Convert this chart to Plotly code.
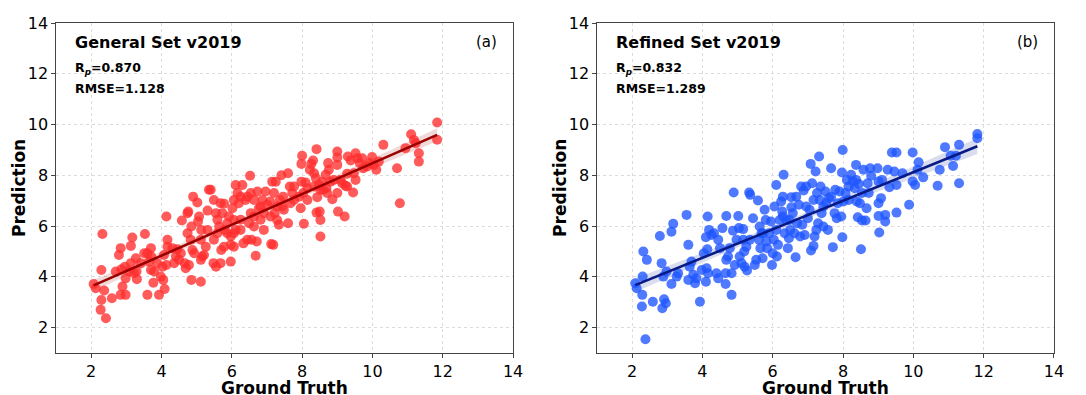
import numpy as np
import plotly.graph_objects as go

# ---------------- data ----------------
gen_truth = [2.07,2.13,2.32,2.29,2.37,2.29,2.27,2.42,2.59,2.79,2.84,2.86,2.89,2.84,2.98,2.98,2.96,3.13,3.13,3.17,
             3.27,3.29,3.30,3.22,3.53,3.60,3.65,3.70,3.71,3.60,3.79,3.77,3.93,3.98,4.05,4.09,4.03,4.14,4.14,4.17,
             4.07,4.31,4.41,4.45,4.50,4.58,4.66,4.74,4.76,4.78,4.83,4.85,4.90,4.88,4.85,4.93,5.02,5.04,5.07,5.12,
             5.12,5.16,5.13,5.26,5.21,5.31,5.35,5.40,5.48,5.55,5.55,5.59,5.64,5.68,5.70,5.73,5.78,5.80,5.87,5.92,
             5.97,5.97,6.02,6.06,6.11,6.11,6.16,6.20,6.25,6.30,6.33,6.39,6.44,6.49,6.52,6.54,6.54,6.56,6.63,6.68,
             6.71,6.73,6.77,6.82,6.87,6.91,6.96,7.01,7.09,7.12,7.15,7.18,7.20,7.22,7.25,7.29,7.34,7.37,7.41,7.44,
             7.46,7.60,7.60,7.65,7.72,7.77,7.91,7.96,7.98,8.00,7.98,8.03,8.05,8.10,8.15,8.22,8.26,8.31,8.34,8.39,
             8.41,8.43,8.41,8.48,8.50,8.52,8.52,8.57,8.60,8.67,8.69,8.74,8.76,8.81,8.86,9.00,9.00,9.00,9.00,9.02,
             9.09,9.14,9.21,9.23,9.28,9.30,9.38,9.45,9.52,9.52,9.57,9.64,9.71,9.74,9.92,9.99,10.04,10.11,10.18,10.31,
             10.70,10.78,10.94,11.10,11.18,11.23,11.32,11.32,11.84,11.84,
             5.49,5.68,6.06,6.25,6.44,6.63,5.87,6.06,6.63,6.91,7.10,7.29,6.82,6.06,5.59,6.25,4.74,5.31,5.12,4.55,
             4.36,4.69,3.88,3.51,3.41,3.08,2.70,3.70,4.17,5.49,5.78,5.97,7.48,7.67,7.77,8.15,8.34,8.52,8.71,8.90,
             9.28,9.47,9.85]
gen_pred = [3.72,3.55,5.69,4.27,3.46,3.09,2.70,2.37,3.16,4.86,5.13,4.30,3.62,3.29,3.29,3.94,4.40,4.54,5.22,5.55,
            4.73,4.21,3.91,4.14,5.69,4.93,4.60,5.13,4.80,3.29,4.21,3.77,3.29,4.01,3.88,3.52,4.40,4.47,6.38,5.19,
            4.86,5.13,4.80,5.09,4.67,6.22,4.54,6.51,6.57,4.47,5.46,5.98,7.16,5.06,3.88,4.93,6.93,6.18,6.38,3.81,
            4.67,4.80,5.85,5.19,4.86,6.61,7.43,7.43,4.54,4.40,6.51,6.25,5.98,4.54,5.06,6.51,6.88,5.85,5.72,6.38,
            4.60,5.26,6.70,5.19,7.62,5.85,7.30,6.90,6.25,7.62,5.32,7.03,5.46,6.11,7.98,7.30,6.51,5.46,5.98,4.83,
            5.39,7.36,6.70,6.25,7.03,5.85,7.36,6.84,6.97,5.29,7.75,5.26,7.30,6.51,7.75,6.77,6.05,7.03,8.00,6.77,
            7.16,8.08,6.11,7.56,7.30,7.03,7.16,6.70,7.75,8.77,8.45,7.30,6.09,7.72,7.49,8.22,8.45,8.58,8.08,7.89,
            9.03,7.14,6.53,7.62,6.57,6.24,5.59,7.75,7.43,8.02,7.49,8.48,8.22,7.75,7.06,8.94,8.70,8.41,7.30,6.57,
            7.82,7.69,6.38,7.59,8.06,8.74,8.58,7.32,7.82,8.87,8.67,8.48,8.67,8.28,8.48,8.72,8.41,8.22,8.54,9.20,
            8.28,6.90,9.07,9.62,9.39,9.26,8.87,8.54,10.08,9.40,
            7.03,6.90,7.03,7.16,7.16,7.03,6.11,6.24,6.38,6.51,6.38,6.24,6.77,5.72,5.72,5.85,5.72,5.85,5.46,4.93,
            4.54,4.34,4.54,4.93,4.54,4.21,4.21,4.27,5.46,5.46,5.19,5.59,6.64,6.90,7.56,7.03,7.56,7.43,7.30,7.82,
            7.56,8.08,8.35]

ref_truth = [2.09,2.13,2.30,2.32,2.42,2.29,2.28,2.38,2.59,2.79,2.84,2.86,2.91,2.96,2.89,2.98,3.12,3.17,3.12,3.27,
             3.31,3.55,3.60,3.60,3.64,3.69,3.74,3.79,3.83,3.93,3.98,4.04,4.10,4.12,4.10,4.16,4.14,4.15,4.19,4.26,
             4.33,4.40,4.45,4.45,4.50,4.57,4.66,4.68,4.68,4.66,4.73,4.78,4.83,4.83,4.87,4.89,4.92,5.02,5.04,5.06,
             5.11,5.16,5.16,5.19,5.20,5.25,5.27,5.33,5.36,5.44,5.49,5.53,5.58,5.61,5.63,5.65,5.68,5.71,5.77,5.80,
             5.82,5.84,5.90,5.95,5.98,6.00,6.03,6.05,6.10,6.12,6.15,6.20,6.24,6.27,6.29,6.31,6.34,6.39,6.43,6.46,
             6.50,6.53,6.53,6.57,6.62,6.65,6.69,6.74,6.78,6.81,6.84,6.88,6.91,6.95,7.00,7.05,7.08,7.09,7.12,7.16,
             7.16,7.19,7.22,7.24,7.26,7.29,7.32,7.34,7.36,7.39,7.44,7.44,7.50,7.57,7.60,7.66,7.71,7.76,7.78,7.82,
             7.85,7.90,7.95,7.98,7.99,7.97,8.01,8.07,8.11,8.16,8.23,8.28,8.33,8.37,8.39,8.42,8.45,8.48,8.51,8.54,
             8.58,8.64,8.67,8.70,8.73,8.77,8.80,8.98,9.01,9.01,9.01,9.03,9.08,9.11,9.20,9.20,9.27,9.32,9.39,9.46,
             9.52,9.52,9.52,9.69,9.88,9.98,9.98,10.05,10.15,10.12,10.28,10.69,10.75,10.90,11.06,11.13,11.21,11.30,11.30,11.82,
             11.82,6.67,6.95,6.48,6.29,6.10,5.72,5.35,4.97,8.16,8.37,8.54,7.66,7.52]
ref_pred = [3.75,3.55,4.01,5.00,4.67,3.29,2.83,1.54,3.02,5.61,4.54,2.76,3.12,2.96,4.01,4.21,5.78,6.09,3.72,4.01,
            4.14,6.44,5.26,3.88,4.40,4.60,4.08,3.75,3.94,3.02,4.27,4.93,5.56,4.34,3.81,4.14,5.09,6.38,5.85,5.65,
            5.72,4.14,5.46,3.94,5.13,5.92,4.14,6.40,4.67,3.72,4.80,5.13,4.14,3.29,5.82,7.32,4.47,6.40,5.92,4.80,
            4.54,5.46,5.88,5.00,4.40,5.19,4.25,7.32,7.23,6.31,4.47,4.67,7.01,5.46,5.98,5.13,5.72,4.73,6.64,6.24,
            5.39,5.13,5.72,6.18,4.47,4.93,5.46,6.77,7.62,4.80,5.26,6.24,6.97,6.57,7.16,8.02,5.72,6.24,5.13,5.52,
            5.85,7.14,6.74,6.51,5.72,4.77,6.11,6.84,5.59,7.56,6.05,7.40,5.65,6.77,6.31,6.64,8.45,5.04,7.69,7.03,
            5.22,5.59,8.15,5.85,7.30,6.11,8.74,7.03,7.56,6.51,5.98,6.77,7.36,5.85,7.10,8.28,5.17,6.51,7.43,6.31,
            6.90,7.36,6.38,5.56,9.00,8.11,6.97,7.30,7.82,7.03,8.02,7.76,7.49,8.41,6.97,6.35,7.66,6.90,5.09,6.22,
            8.22,6.22,6.70,7.69,7.30,8.28,7.98,8.28,7.76,6.90,6.40,5.75,7.10,7.82,6.44,6.18,8.22,7.53,8.90,8.15,
            8.90,7.62,6.53,8.08,6.84,8.90,7.76,7.62,8.51,8.22,7.92,7.59,8.22,9.11,8.77,8.37,8.77,9.20,7.69,9.63,
            9.46,7.16,7.56,6.24,6.38,5.85,5.72,5.46,5.46,7.56,7.82,7.30,7.16,6.90]

panel_titles = ["General Set v2019", "Refined Set v2019"]
panel_tags = ["(a)", "(b)"]
rp_values = ["0.870", "0.832"]
rmse_values = ["1.128", "1.289"]
x_label = "Ground Truth"
y_label = "Prediction"
tick_vals = [2, 4, 6, 8, 10, 12, 14]

point_colors = ["rgba(255,45,45,0.78)", "rgba(30,85,255,0.78)"]
line_colors = ["#9b0000", "#081a86"]
band_colors = ["rgba(160,0,0,0.15)", "rgba(10,30,140,0.15)"]

# ---------------- figure ----------------
fig = go.Figure()
font_family = "DejaVu Sans"
doms = [[0.0, 0.458], [0.542, 1.0]]
datasets = [(gen_truth, gen_pred), (ref_truth, ref_pred)]
title_font = dict(family=font_family, size=17, color="black")

for i, (xs, ys) in enumerate(datasets):
    xa = "x" if i == 0 else "x2"
    ya = "y" if i == 0 else "y2"
    x = np.array(xs)
    y = np.array(ys)
    n = len(x)
    b, a = np.polyfit(x, y, 1)
    xg = np.linspace(x.min(), x.max(), 100)
    yg = a + b * xg
    resid = y - (a + b * x)
    s = np.sqrt(np.sum(resid ** 2) / (n - 2))
    se = s * np.sqrt(1.0 / n + (xg - x.mean()) ** 2 / np.sum((x - x.mean()) ** 2))
    t = 1.97
    fig.add_trace(go.Scatter(x=np.concatenate([xg, xg[::-1]]),
                             y=np.concatenate([yg + t * se, (yg - t * se)[::-1]]),
                             fill="toself", fillcolor=band_colors[i], line=dict(width=0),
                             mode="lines", hoverinfo="skip", showlegend=False, xaxis=xa, yaxis=ya))
    fig.add_trace(go.Scatter(x=x, y=y, mode="markers",
                             marker=dict(size=10, color=point_colors[i], line=dict(width=0)),
                             showlegend=False, xaxis=xa, yaxis=ya))
    fig.add_trace(go.Scatter(x=xg, y=yg, mode="lines", line=dict(color=line_colors[i], width=2.6),
                             showlegend=False, xaxis=xa, yaxis=ya))

    xref = "x domain" if i == 0 else "x2 domain"
    yref = "y domain" if i == 0 else "y2 domain"
    fig.add_annotation(x=0.037, y=0.942, xref=xref, yref=yref, text="<b>" + panel_titles[i] + "</b>",
                       showarrow=False, xanchor="left", yanchor="middle",
                       font=dict(family=font_family, size=16, color="black"))
    fig.add_annotation(x=0.037, y=0.862, xref=xref, yref=yref,
                       text="<b>R<sub><i>p</i></sub>=" + rp_values[i] + "</b>",
                       showarrow=False, xanchor="left", yanchor="middle",
                       font=dict(family=font_family, size=12.5, color="black"))
    fig.add_annotation(x=0.037, y=0.800, xref=xref, yref=yref,
                       text="<b>RMSE=" + rmse_values[i] + "</b>",
                       showarrow=False, xanchor="left", yanchor="middle",
                       font=dict(family=font_family, size=12.5, color="black"))
    fig.add_annotation(x=0.969, y=0.942, xref=xref, yref=yref, text=panel_tags[i],
                       showarrow=False, xanchor="right", yanchor="middle",
                       font=dict(family=font_family, size=15, color="black"))
    # axis titles
    fig.add_annotation(x=0.5, y=-0.105, xref=xref, yref=yref, text="<b>" + x_label + "</b>",
                       showarrow=False, xanchor="center", yanchor="middle", font=title_font)
    fig.add_annotation(x=-0.081, y=0.5, xref=xref, yref=yref, text="<b>" + y_label + "</b>",
                       showarrow=False, xanchor="center", yanchor="middle", textangle=-90,
                       font=title_font)

axis_common = dict(range=[1, 14], tickvals=tick_vals, showgrid=True, gridcolor="#dcdcdc",
                   griddash="dot", gridwidth=1, zeroline=False, showline=True, mirror=True,
                   linecolor="#444444", linewidth=1.2, ticks="outside", ticklen=3.5,
                   tickcolor="#444444", tickfont=dict(family=font_family, size=16, color="black"),
                   automargin=False)

fig.update_layout(
    width=1086, height=395,
    margin=dict(l=56, r=32, t=23, b=42, autoexpand=False),
    paper_bgcolor="white", plot_bgcolor="white",
    xaxis=dict(domain=doms[0], anchor="y", **axis_common),
    yaxis=dict(domain=[0, 1], anchor="x", **axis_common),
    xaxis2=dict(domain=doms[1], anchor="y2", **axis_common),
    yaxis2=dict(domain=[0, 1], anchor="x2", **axis_common),
)

fig.write_html("out.html", config={"displayModeBar": False},
               post_script="document.body.style.margin='0';document.body.style.overflow='hidden';")
